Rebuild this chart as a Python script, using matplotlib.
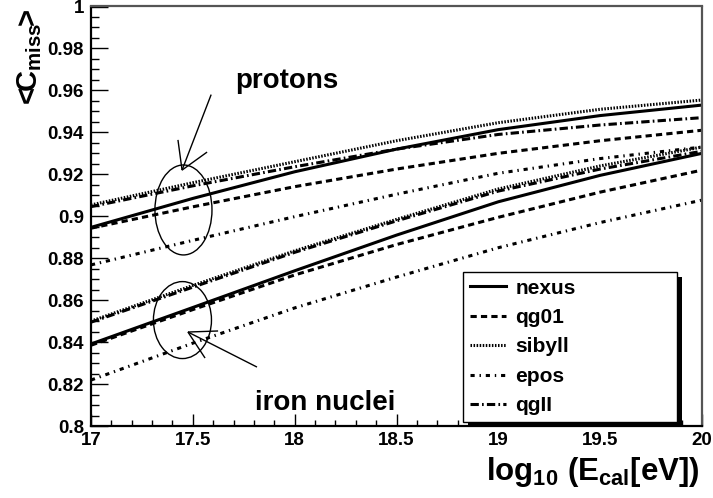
import matplotlib
matplotlib.use("Agg")
import matplotlib.pyplot as plt
from matplotlib.patches import Ellipse, Rectangle
from matplotlib.ticker import MultipleLocator

plt.rcParams['font.family'] = ['Liberation Sans', 'DejaVu Sans']
plt.rcParams['font.weight'] = 'bold'
plt.rcParams['mathtext.fontset'] = 'custom'
plt.rcParams['mathtext.rm'] = 'Liberation Sans:bold'
plt.rcParams['mathtext.it'] = 'Liberation Sans:bold'
plt.rcParams['mathtext.bf'] = 'Liberation Sans:bold'
plt.rcParams['lines.scale_dashes'] = False

# ---------------- data ----------------
log_e = [17.0, 17.5, 18.0, 18.5, 19.0, 19.5, 20.0]

p_nexus  = [0.8947, 0.9085, 0.9212, 0.9320, 0.9413, 0.9480, 0.9530]
p_qg01   = [0.8943, 0.9045, 0.9141, 0.9225, 0.9300, 0.9360, 0.9410]
p_sibyll = [0.9054, 0.9160, 0.9260, 0.9360, 0.9446, 0.9510, 0.9554]
p_epos   = [0.8768, 0.8885, 0.8998, 0.9105, 0.9205, 0.9275, 0.9330]
p_qgII   = [0.9046, 0.9145, 0.9236, 0.9320, 0.9390, 0.9435, 0.9470]

fe_nexus  = [0.8391, 0.8565, 0.8740, 0.8910, 0.9069, 0.9195, 0.9300]
fe_qg01   = [0.8385, 0.8555, 0.8720, 0.8865, 0.8995, 0.9115, 0.9220]
fe_sibyll = [0.8500, 0.8670, 0.8835, 0.8985, 0.9130, 0.9240, 0.9330]
fe_epos   = [0.8219, 0.8395, 0.8563, 0.8710, 0.8850, 0.8970, 0.9077]
fe_qgII   = [0.8495, 0.8662, 0.8828, 0.8978, 0.9120, 0.9225, 0.9310]

models = ['nexus', 'qg01', 'sibyll', 'epos', 'qgII']
proton_series = [p_nexus, p_qg01, p_sibyll, p_epos, p_qgII]
iron_series = [fe_nexus, fe_qg01, fe_sibyll, fe_epos, fe_qgII]

x_ticks = [17, 17.5, 18, 18.5, 19, 19.5, 20]
x_tick_labels = ['17', '17.5', '18', '18.5', '19', '19.5', '20']
y_ticks = [0.8, 0.82, 0.84, 0.86, 0.88, 0.9, 0.92, 0.94, 0.96, 0.98, 1.0]
y_tick_labels = ['0.8', '0.82', '0.84', '0.86', '0.88', '0.9', '0.92', '0.94', '0.96', '0.98', '1']

# ---------------- styles ----------------
styles = {
    'nexus':  '-',
    'qg01':   (0, (4.5, 3.0)),
    'sibyll': (0, (1.1, 1.1)),
    'epos':   (0, (3.0, 3.5, 1.0, 3.5)),
    'qgII':   (0, (6.0, 2.3, 1.2, 2.3)),
}
LW = 2.2

W, H = 713, 498
fig = plt.figure(figsize=(W / 100, H / 100), dpi=100)
ax_l, ax_r, ax_t, ax_b = 91, 702, 6.5, 426
ax = fig.add_axes([ax_l / W, 1 - ax_b / H, (ax_r - ax_l) / W, (ax_b - ax_t) / H])

handles = []
for name, ys in zip(models, proton_series):
    h, = ax.plot(log_e, ys, color='black', lw=LW, ls=styles[name], label=name)
    handles.append(h)
for name, ys in zip(models, iron_series):
    ax.plot(log_e, ys, color='black', lw=LW, ls=styles[name])

ax.set_xlim(17, 20)
ax.set_ylim(0.8, 1.0)
ax.set_xticks(x_ticks)
ax.set_xticklabels(x_tick_labels)
ax.set_yticks(y_ticks)
ax.set_yticklabels(y_tick_labels)
ax.xaxis.set_minor_locator(MultipleLocator(0.1))
ax.yaxis.set_minor_locator(MultipleLocator(0.005))
ax.tick_params(axis='x', which='major', direction='in', length=8.5, width=1.0, labelsize=13.5, pad=4)
ax.tick_params(axis='x', which='minor', direction='in', length=4.3, width=1.0)
ax.tick_params(axis='y', which='major', direction='in', length=12, width=1.0, labelsize=13.5, pad=5)
ax.tick_params(axis='y', which='minor', direction='in', length=6, width=1.0)
for lab in ax.get_xticklabels() + ax.get_yticklabels():
    lab.set_fontweight('bold')
for s in ['left', 'bottom']:
    ax.spines[s].set_linewidth(1.6)
    ax.spines[s].set_color('black')
for s in ['top', 'right']:
    ax.spines[s].set_linewidth(1.6)
    ax.spines[s].set_color('#555555')

# ---------------- legend ----------------
lx0, lx1 = 463, 677
ly0, ly1 = 272, 420
bb = ((lx0 - ax_l) / (ax_r - ax_l), (ax_b - ly1) / (ax_b - ax_t),
      (lx1 - lx0) / (ax_r - ax_l), (ly1 - ly0) / (ax_b - ax_t))
leg = ax.legend(handles=handles, loc='upper left', bbox_to_anchor=bb, mode='expand',
                borderaxespad=0, fancybox=False, frameon=True, edgecolor='black',
                facecolor='white', framealpha=1.0,
                prop={'weight': 'bold', 'size': 15}, handlelength=1.75, handletextpad=0.45,
                labelspacing=0.5, borderpad=0.32)
leg.get_frame().set_linewidth(1.0)
leg.set_zorder(10)
fig.canvas.draw()
lb = leg.get_window_extent()
shadow = Rectangle((lb.x0 + 5, lb.y0 - 5), lb.width, lb.height, transform=None,
                   facecolor='black', edgecolor='none', zorder=9)
ax.add_artist(shadow)
shadow.set_clip_on(False)

# ---------------- annotations ----------------
ax.add_patch(Ellipse((17.454, 0.9030), 0.280, 0.0429, fill=False, color='black', lw=1.0))
ax.add_patch(Ellipse((17.449, 0.8505), 0.285, 0.0367, fill=False, color='black', lw=1.0))

def seg(p, q):
    ax.plot([p[0], q[0]], [p[1], q[1]], color='black', lw=1.0, solid_capstyle='butt')

tip_p = (17.447, 0.9220)
seg(tip_p, (17.590, 0.9580))
seg(tip_p, (17.427, 0.9364))
seg(tip_p, (17.570, 0.9306))

tip_fe = (17.476, 0.8448)
seg(tip_fe, (17.815, 0.8281))
seg(tip_fe, (17.624, 0.8453))
seg(tip_fe, (17.560, 0.8324))

ax.text(17.707, 0.9611, 'protons', fontsize=20, fontweight='bold', ha='left', va='baseline')
ax.text(17.805, 0.8076, 'iron nuclei', fontsize=20, fontweight='bold', ha='left', va='baseline')

# ---------------- axis labels ----------------
fig.text(700 / W, 1 - 480 / H, r'$log_{10}\ (E_{cal}[eV])$', fontsize=22.5,
         ha='right', va='baseline')
fig.text(30 / W, 1 - 9 / H, r'$<\!\!C_{miss}\!\!>$', fontsize=21, rotation=90,
         ha='center', va='top')

fig.savefig('out.png', dpi=100)
